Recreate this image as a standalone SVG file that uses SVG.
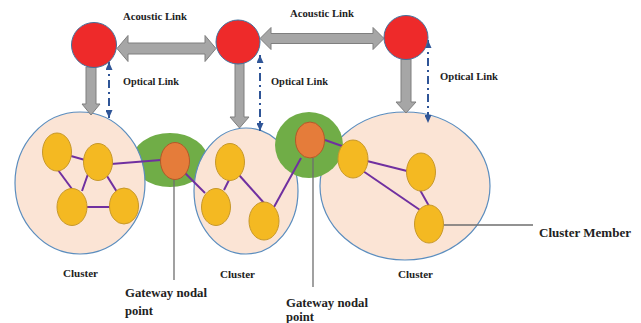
<svg xmlns="http://www.w3.org/2000/svg" width="641" height="323" viewBox="0 0 641 323">
<defs>
<style>
.lbl{font-family:"Liberation Serif","Times New Roman",serif;font-weight:bold;fill:#222;}
.sm{font-size:10px;}
.lg{font-size:12.5px;}
.block{fill:#A6A6A6;stroke:#7F7F7F;stroke-width:1;}
.opt{stroke:#2F5597;stroke-width:2;fill:none;stroke-dasharray:8 4 2 4;marker-start:url(#bh);marker-end:url(#bh);}
.red{fill:#EE2A2A;stroke:#41719C;stroke-width:1;}
.cluster{fill:#FBE4D5;stroke:#5B8DBE;stroke-width:1.2;}
.zone{fill:#70AD47;}
.gw{fill:#E57C3A;stroke:#B2592A;stroke-width:1;}
.cm{fill:#F4B922;stroke:#C7982A;stroke-width:1;}
.edge{stroke:#7030A0;stroke-width:2;fill:none;}
.call{stroke:#6E6E6E;stroke-width:1.3;fill:none;}
</style>
<marker id="bh" viewBox="0 0 8 7" refX="8" refY="3.5" markerWidth="8" markerHeight="7" markerUnits="userSpaceOnUse" orient="auto-start-reverse">
<path d="M0,0 L8,3.5 L0,7 z" fill="#2F5597"/>
</marker>
</defs>
<rect width="641" height="323" fill="#FFFFFF"/>

<g id="zone1"><ellipse class="zone" cx="170" cy="160" rx="38" ry="27"/></g>

<g id="cluster1"><ellipse class="cluster" cx="80" cy="183" rx="65" ry="71"/></g>
<g id="cluster2"><ellipse class="cluster" cx="246" cy="191" rx="52" ry="63"/></g>
<g id="cluster3"><ellipse class="cluster" cx="405" cy="186" rx="85" ry="74"/></g>

<g id="zone2"><ellipse class="zone" cx="309" cy="145" rx="34" ry="33"/></g>

<g id="connectors">
<path class="block" d="M117,48.5 L128,35.5 L128,43 L205,43 L205,35.5 L216,48.5 L205,61.5 L205,54 L128,54 L128,61.5 Z"/>
<path class="block" d="M260,38.5 L271,27.5 L271,33.5 L373,33.5 L373,27.5 L384,38.5 L373,49.5 L373,43.5 L271,43.5 L271,49.5 Z"/>
<path class="block" d="M86,67 L96,67 L96,104 L100,104 L91,115 L82,104 L86,104 Z"/>
<path class="block" d="M235,63 L244,63 L244,117 L249,117 L239.5,128 L230,117 L235,117 Z"/>
<path class="block" d="M401,59 L411,59 L411,102 L416,102 L406,113 L396,102 L401,102 Z"/>
<line class="opt" x1="109" y1="62" x2="109" y2="118"/>
<line class="opt" x1="260" y1="55" x2="260" y2="131"/>
<line class="opt" x1="428" y1="40" x2="428" y2="123"/>
<line class="edge" x1="71" y1="156" x2="85" y2="160"/>
<line class="edge" x1="58" y1="170" x2="72" y2="189"/>
<line class="edge" x1="88" y1="174" x2="82" y2="191"/>
<line class="edge" x1="107" y1="176" x2="117" y2="192"/>
<line class="edge" x1="87" y1="207" x2="110" y2="207"/>
<line class="edge" x1="111" y1="164" x2="161" y2="160"/>
<line class="edge" x1="185" y1="173" x2="205" y2="193"/>
<line class="edge" x1="229" y1="180" x2="224" y2="190"/>
<line class="edge" x1="239" y1="175" x2="264" y2="203"/>
<line class="edge" x1="274" y1="207" x2="301" y2="158"/>
<line class="edge" x1="325" y1="140" x2="342" y2="146"/>
<line class="edge" x1="367" y1="161" x2="407" y2="171"/>
<line class="edge" x1="363" y1="171" x2="420" y2="210"/>
<line class="edge" x1="420" y1="190" x2="429" y2="206"/>
<line class="call" x1="174" y1="179" x2="174" y2="280"/>
<line class="call" x1="313" y1="158" x2="313" y2="287"/>
<line class="call" x1="444" y1="225" x2="533" y2="225"/>
</g>

<g id="sink1"><circle class="red" cx="94" cy="45" r="22.5"/></g>
<g id="sink2"><circle class="red" cx="238" cy="42" r="22"/></g>
<g id="sink3"><circle class="red" cx="406" cy="37.5" r="22"/></g>

<g id="gateway1"><ellipse class="gw" cx="175" cy="161" rx="14.5" ry="18.5"/></g>
<g id="gateway2"><ellipse class="gw" cx="310" cy="140" rx="14.5" ry="18"/></g>

<g id="memberA"><ellipse class="cm" cx="57" cy="152" rx="14.5" ry="19"/></g>
<g id="memberB"><ellipse class="cm" cx="98" cy="162" rx="14.5" ry="18.5"/></g>
<g id="memberC"><ellipse class="cm" cx="72" cy="207" rx="15" ry="18.5"/></g>
<g id="memberD"><ellipse class="cm" cx="124" cy="206" rx="14.5" ry="18"/></g>
<g id="memberE"><ellipse class="cm" cx="230" cy="162" rx="14.5" ry="18.5"/></g>
<g id="memberF"><ellipse class="cm" cx="216" cy="207" rx="14.5" ry="18.5"/></g>
<g id="memberG"><ellipse class="cm" cx="264" cy="221" rx="15" ry="19"/></g>
<g id="memberH"><ellipse class="cm" cx="353" cy="159" rx="15" ry="19"/></g>
<g id="memberI"><ellipse class="cm" cx="421" cy="172" rx="14.5" ry="19"/></g>
<g id="memberJ"><ellipse class="cm" cx="429" cy="224" rx="14.5" ry="19"/></g>

<g id="labels">
<text class="lbl sm" x="123" y="20" textLength="64" lengthAdjust="spacingAndGlyphs">Acoustic Link</text>
<text class="lbl sm" x="290" y="17" textLength="64" lengthAdjust="spacingAndGlyphs">Acoustic Link</text>
<text class="lbl sm" x="123" y="85" textLength="56" lengthAdjust="spacingAndGlyphs">Optical Link</text>
<text class="lbl sm" x="271" y="85" textLength="57" lengthAdjust="spacingAndGlyphs">Optical Link</text>
<text class="lbl sm" x="440" y="80" textLength="58" lengthAdjust="spacingAndGlyphs">Optical Link</text>
<text class="lbl sm" x="63" y="277" textLength="35" lengthAdjust="spacingAndGlyphs">Cluster</text>
<text class="lbl sm" x="220" y="278" textLength="35" lengthAdjust="spacingAndGlyphs">Cluster</text>
<text class="lbl sm" x="398" y="278" textLength="35" lengthAdjust="spacingAndGlyphs">Cluster</text>
<text class="lbl lg" x="125" y="297" textLength="82" lengthAdjust="spacingAndGlyphs">Gateway nodal</text>
<text class="lbl lg" x="125" y="315" textLength="28" lengthAdjust="spacingAndGlyphs">point</text>
<text class="lbl lg" x="286" y="307" textLength="82" lengthAdjust="spacingAndGlyphs">Gateway nodal</text>
<text class="lbl lg" x="286" y="321" textLength="28" lengthAdjust="spacingAndGlyphs">point</text>
<text class="lbl lg" x="539" y="237" textLength="92" lengthAdjust="spacingAndGlyphs">Cluster Member</text>
</g>
</svg>
